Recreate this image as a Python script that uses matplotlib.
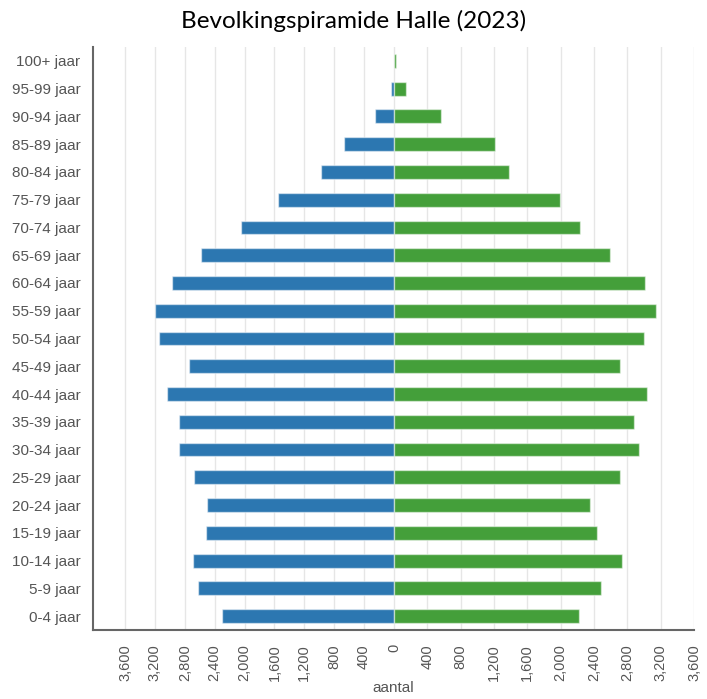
import numpy as np
import matplotlib
matplotlib.use("Agg")
import matplotlib.pyplot as plt
from matplotlib.transforms import ScaledTranslation

# age groups, bottom to top
ages = ['0-4 jaar', '5-9 jaar', '10-14 jaar', '15-19 jaar', '20-24 jaar',
        '25-29 jaar', '30-34 jaar', '35-39 jaar', '40-44 jaar', '45-49 jaar',
        '50-54 jaar', '55-59 jaar', '60-64 jaar', '65-69 jaar', '70-74 jaar',
        '75-79 jaar', '80-84 jaar', '85-89 jaar', '90-94 jaar', '95-99 jaar',
        '100+ jaar']
men = [2305, 2618, 2689, 2515, 2502, 2676, 2873, 2881, 3033, 2739,
       3144, 3194, 2970, 2578, 2051, 1556, 977, 669, 258, 45, 3]
women = [2225, 2480, 2736, 2432, 2352, 2717, 2940, 2880, 3041, 2712,
         3000, 3140, 3012, 2588, 2237, 1997, 1376, 1208, 560, 140, 25]
tick_vals = [400, 800, 1200, 1600, 2000, 2400, 2800, 3200, 3600]

blue = '#2c77b1'
green = '#449f3a'
k = 269 / 300.0  # left half is drawn a bit more compressed


def fwd(x):
    x = np.asarray(x, dtype=float)
    return np.where(x < 0, x * k, x)


def inv(x):
    x = np.asarray(x, dtype=float)
    return np.where(x < 0, x / k, x)


fig = plt.figure(figsize=(7.07, 6.99), dpi=100)
ax = fig.add_axes([93 / 707, 1 - 630 / 699, 601 / 707, 583 / 699])
ax.set_xscale('function', functions=(fwd, inv))

y = np.arange(len(ages))
ax.barh(y, [-v for v in men], height=0.5, color=blue,
        edgecolor=(1, 1, 1, 0.5), linewidth=1, zorder=2)
ax.barh(y, women, height=0.5, color=green,
        edgecolor=(1, 1, 1, 0.5), linewidth=1, zorder=2)

ax.set_xlim(-4028, 3600)
ax.set_ylim(-0.5, 20.5)

ticks = [-v for v in tick_vals[::-1]] + [0] + tick_vals
ax.set_xticks(ticks)
ax.set_xticklabels(['{:,}'.format(abs(t)) for t in ticks], rotation=90,
                   fontsize=10.5, color='#555555', family='Liberation Sans')
for lab in ax.get_xticklabels():
    lab.set_transform(lab.get_transform() + ScaledTranslation(0.05, 0, fig.dpi_scale_trans))
ax.set_yticks(y)
ax.set_yticklabels(ages, fontsize=11, color='#555555', family='Liberation Sans')
ax.tick_params(axis='both', length=0)
ax.tick_params(axis='y', pad=9)
ax.tick_params(axis='x', pad=10)

ax.grid(axis='x', color='#e6e6e6', linewidth=1, zorder=0)
ax.set_axisbelow(True)
for side in ['top', 'right']:
    ax.spines[side].set_visible(False)
for side in ['left', 'bottom']:
    ax.spines[side].set_color('#666666')
    ax.spines[side].set_linewidth(1.5)

ax.set_xlabel('aantal', fontsize=11, color='#555555', family='Liberation Sans', labelpad=0)
fig.text(0.5, 1 - 21 / 699, 'Bevolkingspiramide Halle (2023)', ha='center', va='center',
         fontsize=17.5, family='Lato', color='black')

fig.savefig('out.png', dpi=100)
